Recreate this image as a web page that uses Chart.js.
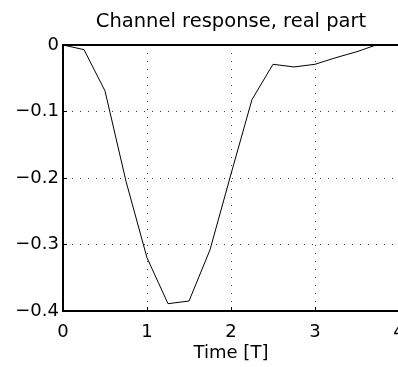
<!DOCTYPE html>
<html lang="en">

<head>
    <meta charset="UTF-8">
    <title>Channel response, real part</title>
    <script src="https://cdn.jsdelivr.net/npm/chart.js"></script>
    <style>
        body {
            background-color: #ffffff;
            margin: 0;
            overflow: hidden;
        }

        canvas {
            display: block;
        }
    </style>
</head>

<body>
    <canvas id="responseChart" width="420" height="367"></canvas>

    <script>
        // Sample times (in symbol periods T) and real part of the channel response
        const times = [0, 0.25, 0.5, 0.75, 1, 1.25, 1.5, 1.75, 2, 2.25, 2.5, 2.75, 3, 3.25, 3.5, 3.75, 4];
        const realPart = [0, -0.007, -0.069, -0.205, -0.32, -0.389, -0.385, -0.308, -0.194, -0.082,
            -0.029, -0.033, -0.029, -0.019, -0.01, 0.001, 0.004];
        const xTicks = [0, 1, 2, 3, 4];
        const yTicks = [-0.4, -0.3, -0.2, -0.1, 0];

        const fontFamily = "'DejaVu Sans', sans-serif";
        const dotted = [1, 7];

        // MATLAB style labels: long minus sign, "0" without decimals
        function fmtY(v) {
            if (Math.abs(v) < 1e-9) return '0';
            return v.toFixed(1).replace('-', '\u2212');
        }

        const ctx = document.getElementById('responseChart').getContext('2d');

        new Chart(ctx, {
            type: 'line',
            data: {
                datasets: [{
                    data: times.map((t, i) => ({ x: t, y: realPart[i] })),
                    borderColor: '#000000',
                    borderWidth: 1,
                    pointRadius: 0,
                    tension: 0,
                    fill: false
                }]
            },
            options: {
                responsive: false,
                animation: false,
                devicePixelRatio: 1,
                layout: {
                    padding: { left: 0, right: 21, top: 0, bottom: 0 }
                },
                plugins: {
                    legend: { display: false },
                    tooltip: { enabled: false },
                    title: {
                        display: true,
                        text: 'Channel response, real part',
                        color: '#000000',
                        fullSize: false,
                        font: { family: fontFamily, size: 19.5, weight: 'normal' },
                        padding: { top: 10, bottom: 11.6 }
                    }
                },
                scales: {
                    x: {
                        type: 'linear',
                        min: xTicks[0],
                        max: xTicks[xTicks.length - 1],
                        afterBuildTicks: scale => { scale.ticks = xTicks.map(v => ({ value: v })); },
                        afterFit: scale => { scale.height = 56; },
                        ticks: {
                            color: '#000000',
                            padding: 15,
                            maxRotation: 0,
                            font: { family: fontFamily, size: 18 },
                            callback: v => String(Math.round(v))
                        },
                        grid: {
                            color: 'rgba(0,0,0,0.75)',
                            lineWidth: 1,
                            drawTicks: true,
                            tickLength: -4,
                            tickColor: '#000000',
                            tickWidth: 1,
                            tickBorderDash: []
                        },
                        border: { display: true, color: '#000000', width: 2, dash: dotted },
                        title: {
                            display: true,
                            text: 'Time [T]',
                            color: '#000000',
                            font: { family: fontFamily, size: 18 },
                            padding: { top: 0, bottom: 3 }
                        }
                    },
                    xTop: {
                        type: 'linear',
                        position: 'top',
                        min: 0,
                        max: 4,
                        afterFit: scale => { scale.height = 0; },
                        ticks: { display: false },
                        grid: { display: false, drawTicks: false },
                        border: { display: true, color: '#000000', width: 2 }
                    },
                    y: {
                        min: yTicks[0],
                        max: yTicks[yTicks.length - 1],
                        afterBuildTicks: scale => { scale.ticks = yTicks.map(v => ({ value: v })); },
                        afterFit: scale => { scale.width = 63; },
                        ticks: {
                            color: '#000000',
                            padding: 8,
                            font: { family: fontFamily, size: 18 },
                            callback: v => fmtY(v)
                        },
                        grid: {
                            color: 'rgba(0,0,0,0.75)',
                            lineWidth: 1,
                            drawTicks: true,
                            tickLength: -4,
                            tickColor: '#000000',
                            tickWidth: 1,
                            tickBorderDash: []
                        },
                        border: { display: true, color: '#000000', width: 2, dash: dotted }
                    }
                }
            }
        });
    </script>
</body>

</html>
